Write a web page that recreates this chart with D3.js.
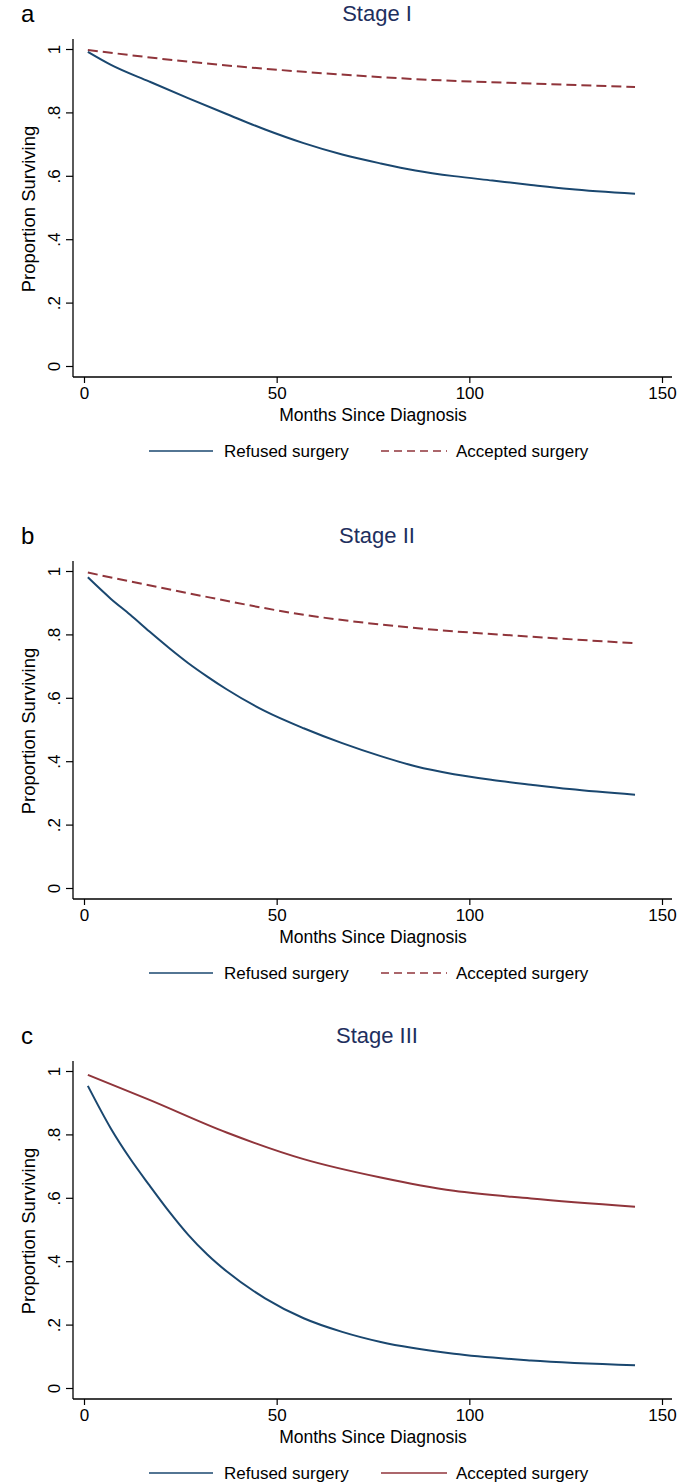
<!DOCTYPE html>
<html>
<head>
<meta charset="utf-8">
<script src="https://cdn.jsdelivr.net/npm/d3@7"></script>
<style>
  body { margin: 0; background: #fff; }
  svg { display: block; font-family: "Liberation Sans", Arial, sans-serif; }
</style>
</head>
<body>
<svg id="chart" width="694" height="1482"></svg>
<script>
"use strict";

// Kaplan-Meier estimates: [month, proportion surviving]
const stageIRefused = [[1, 0.991], [7, 0.950], [17, 0.897], [27, 0.845], [37, 0.795], [47, 0.746], [57, 0.703],
    [67, 0.667], [77, 0.639], [86, 0.617], [96, 0.599], [106, 0.585], [116, 0.571], [126, 0.558], [143, 0.543]];
const stageIAccepted = [[1, 0.997], [27, 0.960], [57, 0.928], [86, 0.905], [116, 0.891], [143, 0.880]];

const stageIIRefused = [[1, 0.980], [7, 0.912], [12, 0.862], [17, 0.809], [22, 0.758], [27, 0.710], [32, 0.667],
    [37, 0.627], [47, 0.558], [57, 0.504], [67, 0.457], [77, 0.416], [86, 0.384], [96, 0.359], [106, 0.341],
    [116, 0.326], [126, 0.312], [143, 0.294]];
const stageIIAccepted = [[1, 0.995], [27, 0.930], [57, 0.862], [86, 0.820], [116, 0.793], [143, 0.772]];

const stageIIIRefused = [[1, 0.953], [7, 0.818], [12, 0.723], [17, 0.639], [22, 0.558], [27, 0.484], [32, 0.421],
    [37, 0.368], [47, 0.283], [57, 0.220], [67, 0.177], [77, 0.145], [96, 0.108], [116, 0.087], [143, 0.072]];
const stageIIIAccepted = [[1, 0.988], [17, 0.909], [37, 0.806], [57, 0.722], [77, 0.664], [96, 0.622], [116, 0.598], [143, 0.572]];

const panelLetters = ["a", "b", "c"];
const panelTitles = ["Stage I", "Stage II", "Stage III"];
const xTicks = [0, 50, 100, 150];
const yTicks = [0, 0.2, 0.4, 0.6, 0.8, 1];
const yTickLabels = ["0", ".2", ".4", ".6", ".8", "1"];
const seriesNames = ["Refused surgery", "Accepted surgery"];

const panels = [
    { refused: stageIRefused, accepted: stageIAccepted, dashed: true, top: 0 },
    { refused: stageIIRefused, accepted: stageIIAccepted, dashed: true, top: 522 },
    { refused: stageIIIRefused, accepted: stageIIIAccepted, dashed: false, top: 1022 }
];

const blue = "#1a476f";
const red = "#90353b";
const titleColor = "#1e2f5e";
const fontFam = "'Liberation Sans', Arial, sans-serif";

const svg = d3.select("#chart");

const x = d3.scaleLinear().domain([0, 150]).range([84, 662]);
const y = d3.scaleLinear().domain([0, 1]).range([366, 49]);

const line = d3.line()
    .curve(d3.curveMonotoneX)
    .x(d => x(d[0]))
    .y(d => y(d[1]));

panels.forEach((p, i) => {
    const g = svg.append("g").attr("transform", `translate(0,${p.top})`);

    // panel letter + title
    g.append("text")
        .attr("x", 21).attr("y", 22)
        .style("font-size", "24px")
        .text(panelLetters[i]);
    g.append("text")
        .attr("x", 377).attr("y", 21)
        .attr("text-anchor", "middle")
        .style("font-size", "22px")
        .style("fill", titleColor)
        .text(panelTitles[i]);

    // axis lines
    g.append("line").attr("x1", 73).attr("x2", 73).attr("y1", 39).attr("y2", 377)
        .attr("stroke", "#000").attr("stroke-width", 1.3);
    g.append("line").attr("x1", 73).attr("x2", 672).attr("y1", 377).attr("y2", 377)
        .attr("stroke", "#000").attr("stroke-width", 1.3);

    const yAxis = g.append("g")
        .attr("transform", "translate(73,0)")
        .call(d3.axisLeft(y).tickValues(yTicks).tickSize(7)
            .tickFormat((d, k) => yTickLabels[k]));
    yAxis.select(".domain").remove();
    yAxis.selectAll(".tick line").attr("stroke-width", 1.2);
    yAxis.selectAll(".tick text")
        .attr("transform", "rotate(-90)")
        .attr("x", 0).attr("y", -13).attr("dy", 0)
        .attr("text-anchor", "middle")
        .style("font-size", "17px")
        .style("font-family", fontFam)
        .attr("fill", "#000");

    const xAxis = g.append("g")
        .attr("transform", "translate(0,377)")
        .call(d3.axisBottom(x).tickValues(xTicks).tickSize(6));
    xAxis.select(".domain").remove();
    xAxis.selectAll(".tick line").attr("stroke-width", 1.2);
    xAxis.selectAll(".tick text")
        .attr("y", 8).attr("dy", "0.8em")
        .style("font-size", "17px")
        .style("font-family", fontFam)
        .attr("fill", "#000");

    g.append("text")
        .attr("x", 373).attr("y", 421)
        .attr("text-anchor", "middle")
        .style("font-size", "17.5px")
        .text("Months Since Diagnosis");
    g.append("text")
        .attr("transform", "translate(35,209) rotate(-90)")
        .attr("text-anchor", "middle")
        .style("font-size", "18.5px")
        .text("Proportion Surviving");

    // survival curves
    g.append("path")
        .datum(p.accepted)
        .attr("d", line)
        .attr("fill", "none")
        .attr("stroke", red)
        .attr("stroke-width", 2)
        .attr("stroke-dasharray", p.dashed ? "10,5" : null);
    g.append("path")
        .datum(p.refused)
        .attr("d", line)
        .attr("fill", "none")
        .attr("stroke", blue)
        .attr("stroke-width", 2);

    // legend
    const legend = g.append("g").attr("transform", "translate(0,451)");
    legend.append("line").attr("x1", 149).attr("x2", 213).attr("y1", 0).attr("y2", 0)
        .attr("stroke", blue).attr("stroke-width", 1.5);
    legend.append("text").attr("x", 224).attr("y", 6)
        .style("font-size", "17px").text(seriesNames[0]);
    legend.append("line").attr("x1", 381).attr("x2", 447).attr("y1", 0).attr("y2", 0)
        .attr("stroke", red).attr("stroke-width", 1.5)
        .attr("stroke-dasharray", p.dashed ? "8,5" : null);
    legend.append("text").attr("x", 456).attr("y", 6)
        .style("font-size", "17px").text(seriesNames[1]);
});
</script>
</body>
</html>
